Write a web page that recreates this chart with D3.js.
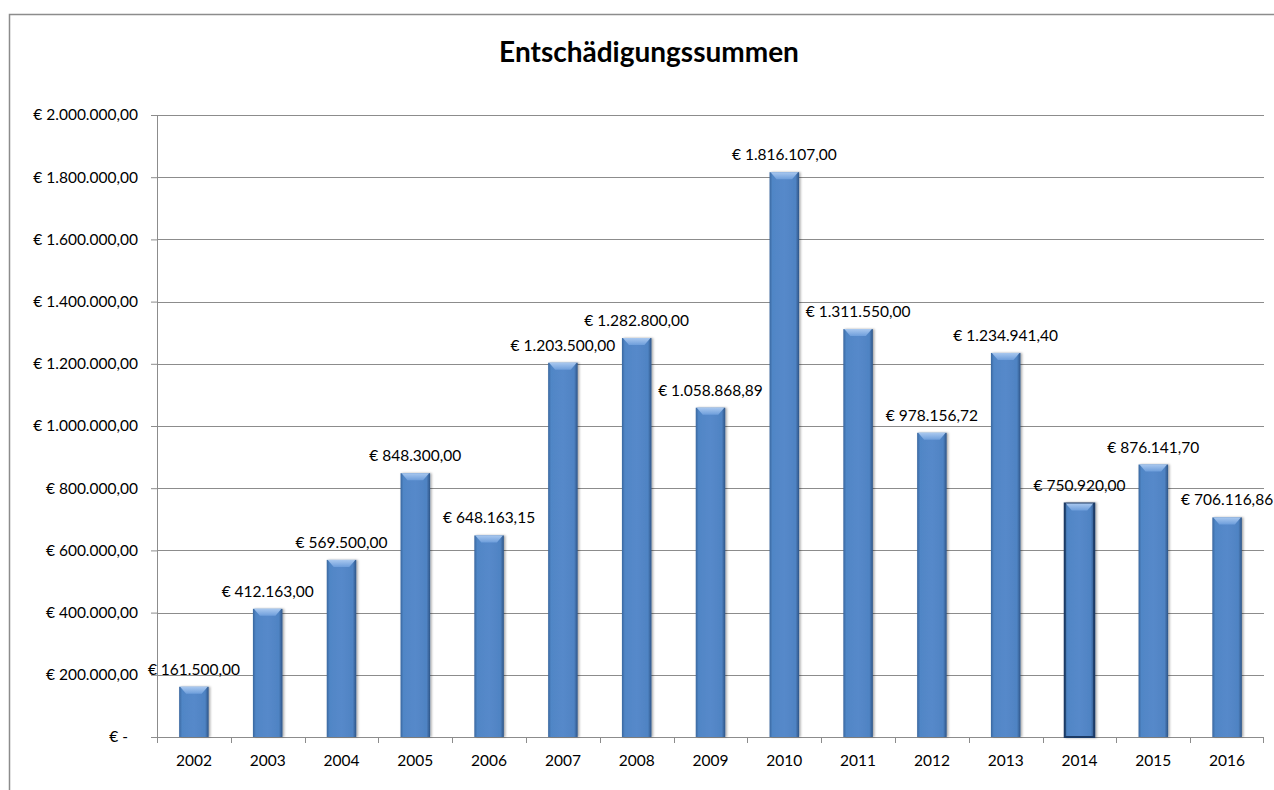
<!DOCTYPE html>
<html>
<head>
<meta charset="utf-8">
<script src="https://cdn.jsdelivr.net/npm/d3@7"></script>
<style>
  body { margin: 0; background: #fff; }
  text { font-family: Lato, "Open Sans", sans-serif; fill: #000; }
</style>
</head>
<body>
<div id="chart"></div>
<script>
// Chart data
var years = ["2002", "2003", "2004", "2005", "2006", "2007", "2008", "2009",
             "2010", "2011", "2012", "2013", "2014", "2015", "2016"];
var amounts = [161500.00, 412163.00, 569500.00, 848300.00, 648163.15, 1203500.00,
               1282800.00, 1058868.89, 1816107.00, 1311550.00, 978156.72,
               1234941.40, 750920.00, 876141.70, 706116.86];
var yTicks = [0, 200000, 400000, 600000, 800000, 1000000, 1200000,
              1400000, 1600000, 1800000, 2000000];
var highlighted = ["2014"];

var data = years.map(function(y, i) { return {year: y, value: amounts[i]}; });

var width = 1274, height = 790;
var margin = {top: 115, right: 10, bottom: 53, left: 157};
var plotW = 1264 - margin.left, plotH = 737 - margin.top;

var svg = d3.select("#chart")
  .append("svg")
    .attr("width", width)
    .attr("height", height);

// Euro formatting, German style
var fmt = function(v) {
  if (v === 0) return "€ -";
  var s = v.toFixed(2).split(".");
  var intPart = s[0].replace(/\B(?=(\d{3})+(?!\d))/g, ".");
  return "€ " + intPart + "," + s[1];
};

// Gradients for the bevelled bars
var defs = svg.append("defs");
var body = defs.append("linearGradient").attr("id", "barBody")
    .attr("x1", "0%").attr("x2", "100%").attr("y1", "0%").attr("y2", "0%");
[["0%", "#39679f"], ["10%", "#5086c6"], ["50%", "#5689ca"], ["88%", "#4f83c3"], ["100%", "#2e5587"]]
  .forEach(function(s) { body.append("stop").attr("offset", s[0]).attr("stop-color", s[1]); });
var bevel = defs.append("linearGradient").attr("id", "barBevel")
    .attr("x1", "0%").attr("x2", "0%").attr("y1", "0%").attr("y2", "100%");
[["0%", "#a9c8ef"], ["100%", "#6e9edb"]]
  .forEach(function(s) { bevel.append("stop").attr("offset", s[0]).attr("stop-color", s[1]); });
var shadow = defs.append("filter").attr("id", "shadow")
    .attr("x", "-20%").attr("y", "-5%").attr("width", "150%").attr("height", "115%");
shadow.append("feDropShadow").attr("dx", 1.5).attr("dy", 0).attr("stdDeviation", 1.2)
    .attr("flood-color", "#000").attr("flood-opacity", 0.35);

// Outer chart border
svg.append("rect")
    .attr("x", 9.5).attr("y", 14.5)
    .attr("width", 1400).attr("height", 900)
    .attr("fill", "none").attr("stroke", "#8c8c8c").attr("stroke-width", 1.5);

// Title
svg.append("text")
    .attr("x", 649).attr("y", 62)
    .attr("text-anchor", "middle")
    .style("font-size", "28px").style("font-weight", "bold")
    .text("Entschädigungssummen");

var g = svg.append("g")
    .attr("transform", "translate(" + margin.left + "," + margin.top + ")");

// Scales
var x = d3.scaleBand().domain(years).range([0, plotW]).padding(0);
var y = d3.scaleLinear().domain([0, 2000000]).range([plotH, 0]);
var barW = x.bandwidth() * 0.4;

// Gridlines
g.append("g")
  .selectAll("line")
  .data(yTicks)
  .enter()
  .append("line")
    .attr("x1", 0).attr("x2", plotW)
    .attr("y1", function(d) { return Math.round(y(d)) + 0.5; })
    .attr("y2", function(d) { return Math.round(y(d)) + 0.5; })
    .attr("stroke", "#8c8c8c").attr("stroke-width", 1);

// Y axis
var yAxis = g.append("g")
    .call(d3.axisLeft(y).tickValues(yTicks).tickSize(6).tickFormat(fmt));
yAxis.select(".domain").attr("stroke", "#8c8c8c");
yAxis.selectAll(".tick line").attr("stroke", "#8c8c8c");
yAxis.selectAll(".tick text")
    .attr("x", -19)
    .style("font-size", "15.5px").style("font-family", "Lato, sans-serif")
    .attr("fill", "#000");
yAxis.selectAll(".tick").filter(function(d) { return d === 0; })
    .select("text").attr("x", -29);

// X axis line and ticks at category boundaries
g.append("line")
    .attr("x1", 0).attr("x2", plotW)
    .attr("y1", plotH + 0.5).attr("y2", plotH + 0.5)
    .attr("stroke", "#8c8c8c");
g.append("g")
  .selectAll("line")
  .data(years.concat(["end"]))
  .enter()
  .append("line")
    .attr("x1", function(d) { return d === "end" ? plotW - 0.5 : Math.round(x(d)) + 0.5; })
    .attr("x2", function(d) { return d === "end" ? plotW - 0.5 : Math.round(x(d)) + 0.5; })
    .attr("y1", plotH).attr("y2", plotH + 6)
    .attr("stroke", "#8c8c8c");
g.append("g")
  .selectAll("text")
  .data(years)
  .enter()
  .append("text")
    .attr("x", function(d) { return x(d) + x.bandwidth() / 2; })
    .attr("y", plotH + 29)
    .attr("text-anchor", "middle")
    .style("font-size", "15.5px")
    .text(function(d) { return d; });

// Bars
var bars = g.append("g")
  .selectAll("g")
  .data(data)
  .enter()
  .append("g")
    .attr("transform", function(d) {
      return "translate(" + (x(d.year) + x.bandwidth() / 2 - barW / 2) + "," + y(d.value) + ")";
    });

bars.append("rect")
    .attr("width", barW)
    .attr("height", function(d) { return plotH - y(d.value); })
    .attr("fill", "url(#barBody)")
    .attr("filter", "url(#shadow)")
    .attr("stroke", function(d) { return highlighted.indexOf(d.year) >= 0 ? "#1c3a66" : "none"; })
    .attr("stroke-width", 2);

bars.append("polygon")
    .attr("points", "1,0 " + (barW - 1) + ",0 " + (barW - 7) + ",7 7,7")
    .attr("fill", "url(#barBevel)");

// Value labels
g.append("g")
  .selectAll("text")
  .data(data)
  .enter()
  .append("text")
    .attr("x", function(d) { return x(d.year) + x.bandwidth() / 2; })
    .attr("y", function(d) { return y(d.value) - 12; })
    .attr("text-anchor", "middle")
    .style("font-size", "15.5px")
    .text(function(d) { return fmt(d.value); });
</script>
</body>
</html>
